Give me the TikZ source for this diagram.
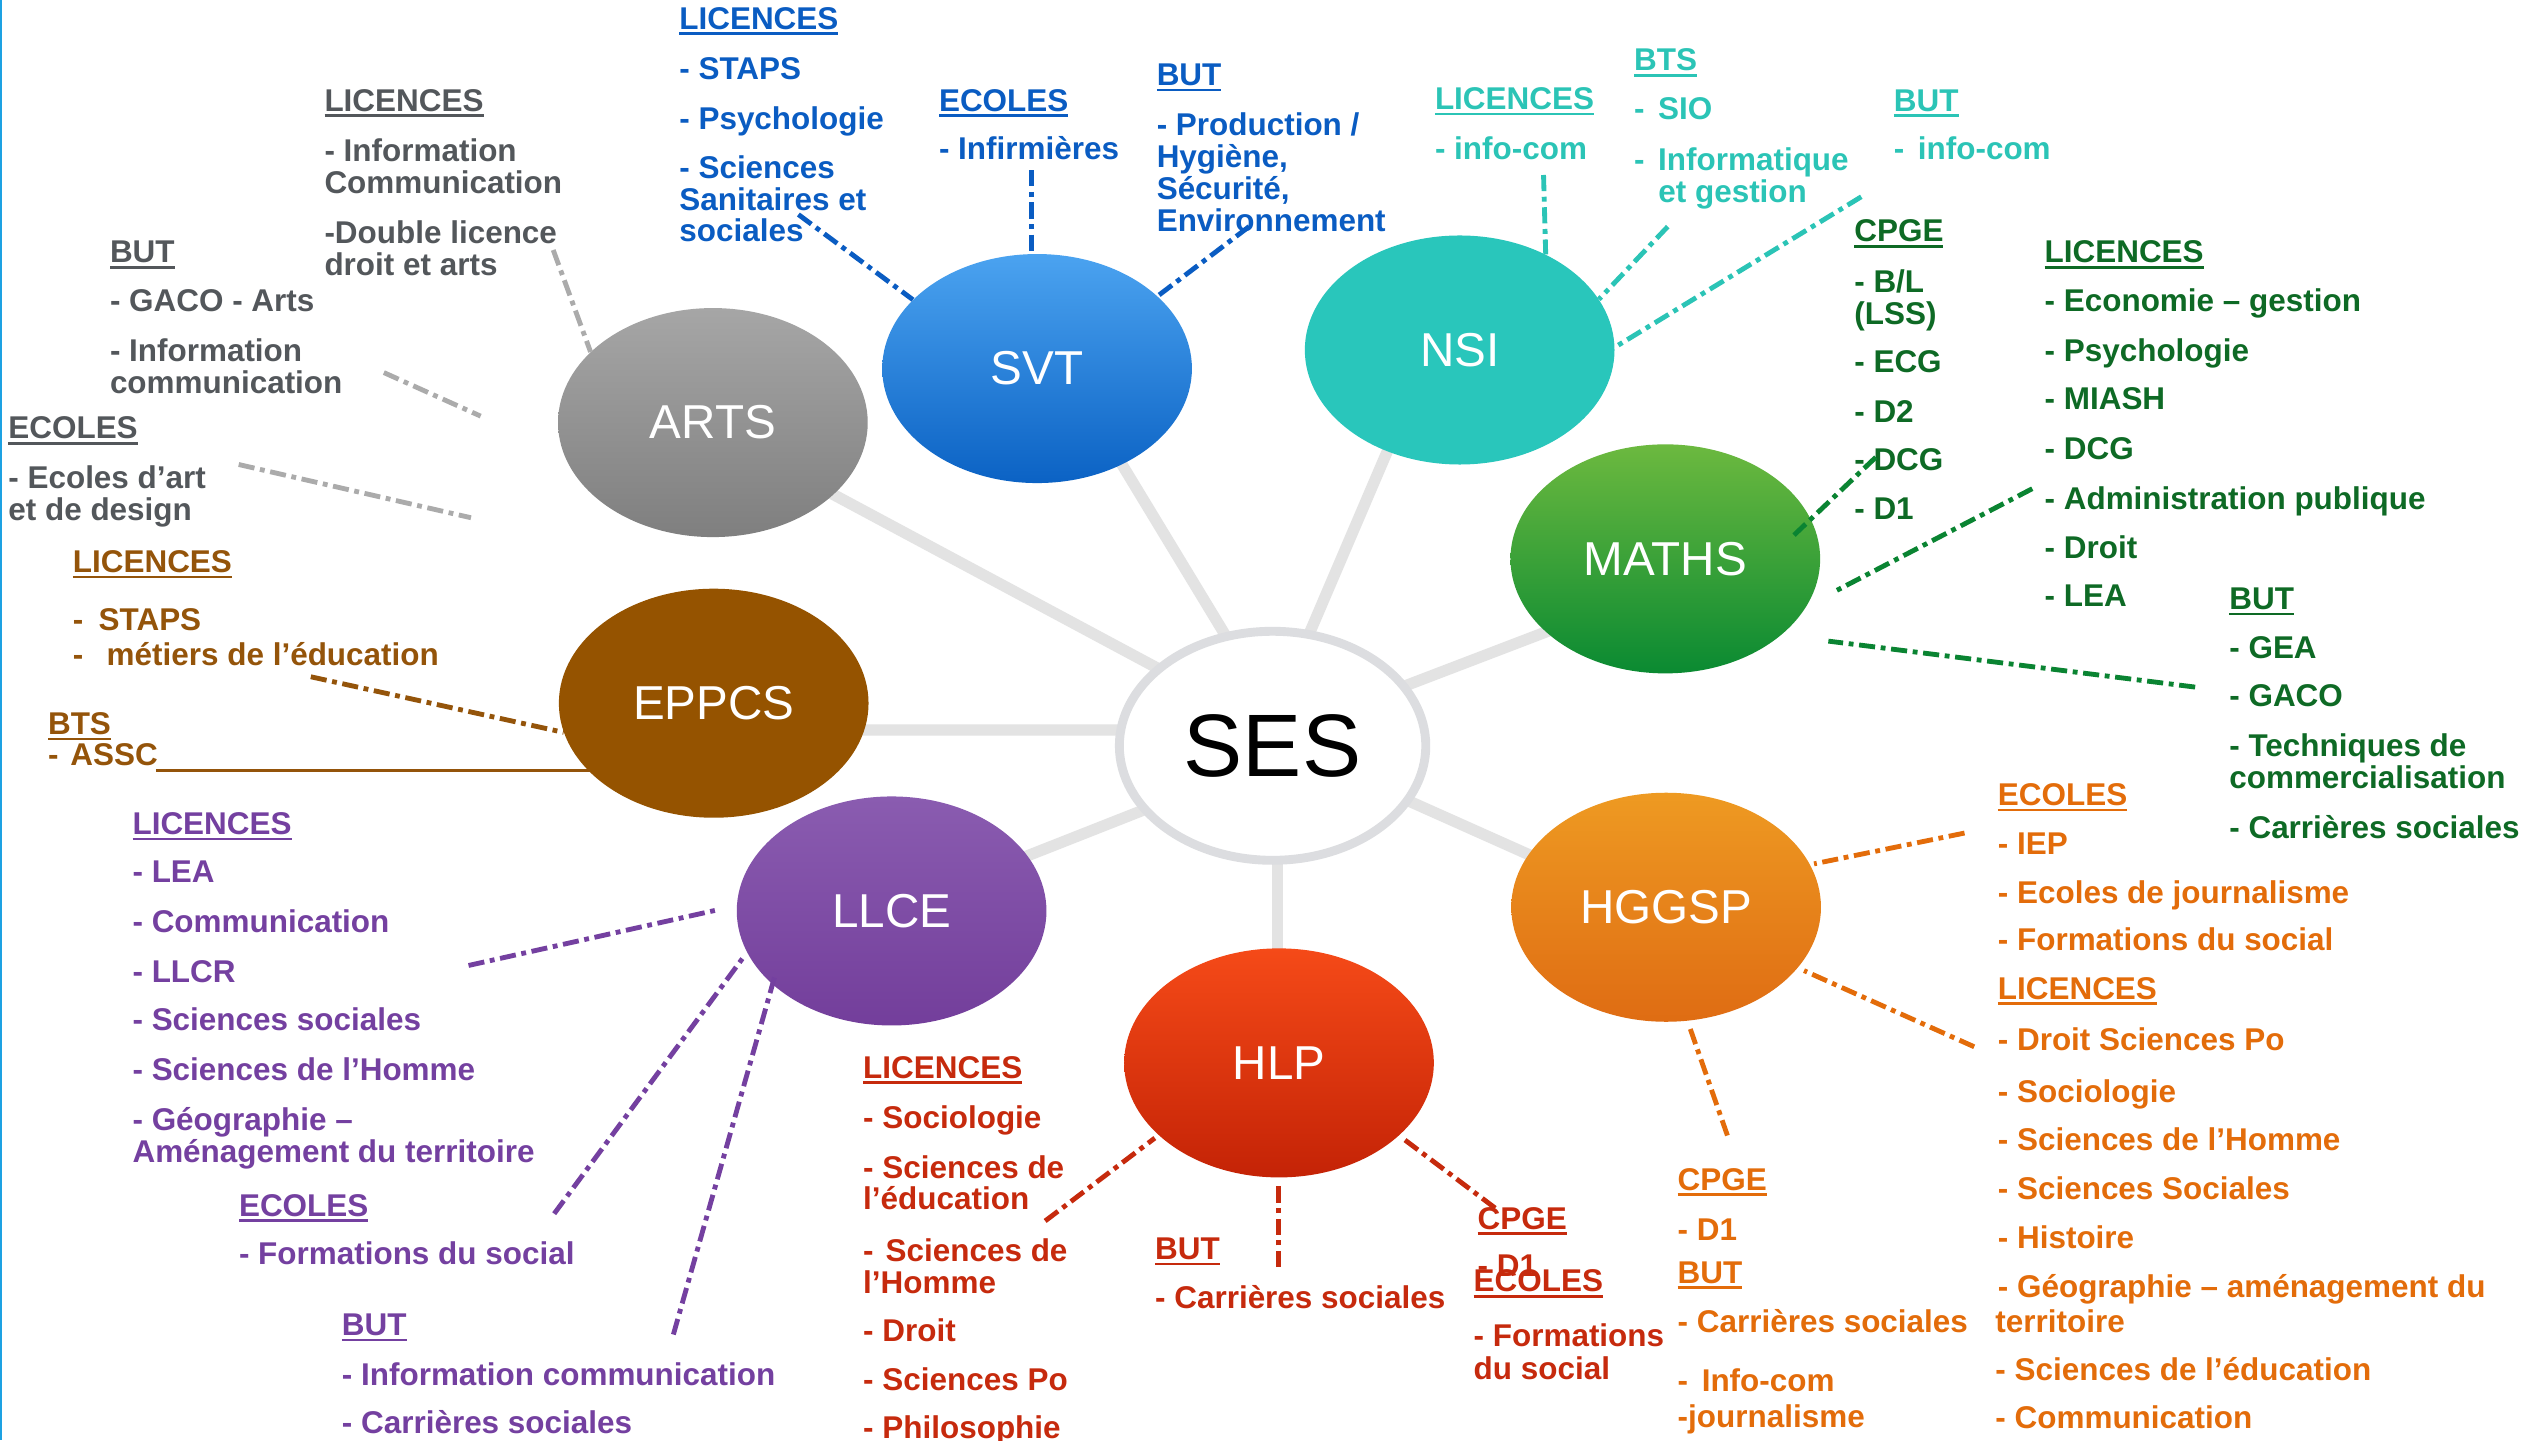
\documentclass[tikz,border=0pt]{standalone}
\usepackage{fontspec}
\setmainfont{Liberation Sans}
\usetikzlibrary{shapes.geometric,backgrounds,calc}
\definecolor{grayT}{HTML}{53575B}
\definecolor{grayL}{HTML}{ABABAB}
\definecolor{blueT}{HTML}{0A5CC2}
\definecolor{tealT}{HTML}{2BC4B6}
\definecolor{greenT}{HTML}{0E6A25}
\definecolor{greenL}{HTML}{0A8432}
\definecolor{brownT}{HTML}{94540A}
\definecolor{purpleT}{HTML}{7440A0}
\definecolor{redT}{HTML}{C62A0D}
\definecolor{orangeT}{HTML}{E36C0A}
\definecolor{artsA}{HTML}{A6A6A6}
\definecolor{artsB}{HTML}{7F7F7F}
\definecolor{svtA}{HTML}{4BA3F0}
\definecolor{svtB}{HTML}{0B62C4}
\definecolor{nsiC}{HTML}{29C6BB}
\definecolor{mathsA}{HTML}{6CB93F}
\definecolor{mathsB}{HTML}{0A8A32}
\definecolor{eppcsC}{HTML}{955300}
\definecolor{llceA}{HTML}{8A5CB0}
\definecolor{llceB}{HTML}{733E9B}
\definecolor{hlpA}{HTML}{F54A18}
\definecolor{hlpB}{HTML}{C42306}
\definecolor{hggspA}{HTML}{EE9A22}
\definecolor{hggspB}{HTML}{DF6C13}
\definecolor{spokeC}{HTML}{E3E3E3}
\definecolor{sesB}{HTML}{DCDDE0}
\definecolor{edgeC}{HTML}{1DA1E2}
\newcommand\uhead[1]{\setbox0\hbox{#1}\rlap{\rule[-3.6pt]{\wd0}{1.7pt}}\box0}
\newcommand\txtcol[4]{\foreach \yv/\tv [count=\ii] in {#4} {\node[lbl,#3] (#1\ii) at (#2,\yv) {\tv};}}
\tikzset{
  lbl/.style={font=\fontsize{19.5}{20}\selectfont\bfseries, inner sep=0pt, anchor=base west},
  bub/.style={ellipse, minimum width=192pt, minimum height=142pt, inner sep=0pt, text=white,
    font=\fontsize{29.5}{30}\selectfont},
  spoke/.style={draw=spokeC, line width=7pt},
  dd/.style={line width=3pt, dash pattern=on 10pt off 3.5pt on 3pt off 3.5pt},
}
\begin{document}
\begin{tikzpicture}[x=1pt,y=-1pt]
\useasboundingbox (0,0) rectangle (1568,893);

% ---- circles
\node[bub, top color=artsA, bottom color=artsB] (arts) at (442,262) {ARTS};
\node[bub, top color=svtA, bottom color=svtB] (svt) at (643,228.5) {SVT};
\node[bub, fill=nsiC] (nsi) at (905,217) {NSI};
\node[bub, top color=mathsA, bottom color=mathsB] (maths) at (1032.5,346.5) {MATHS};
\node[bub, fill=eppcsC] (eppcs) at (442.5,436) {EPPCS};
\node[bub, top color=llceA, bottom color=llceB] (llce) at (552.8,564.8) {LLCE};
\node[bub, top color=hlpA, bottom color=hlpB] (hlp) at (793,659) {HLP};
\node[bub, top color=hggspA, bottom color=hggspB] (hggsp) at (1033,562.5) {HGGSP};
\node[ellipse, minimum width=190pt, minimum height=142pt, inner sep=0pt, fill=white,
  draw=sesB, line width=5.5pt, font=\fontsize{55}{56}\selectfont] (ses) at (789,462.4) {SES};

% ---- spokes (behind)
\begin{scope}[on background layer]
\fill[white] (0,0) rectangle (1568,893);
\draw[edgeC, line width=1.2pt] (0.6,0) -- (0.6,893);
\draw[spoke] ($(ses)+(0,-9.9)$) -- ($(arts)+(0,4.6)$);
\draw[spoke] ($(ses)+(12,-0.4)$) -- ($(svt)+(16.6,0)$);
\draw[spoke] ($(ses)+(-7,0)$) -- ($(nsi)+(-18,0)$);
\draw[spoke] ($(ses)+(0,-5.7)$) -- ($(maths)+(0,17)$);
\draw[spoke] ($(ses)+(0,-9.8)$) -- ($(eppcs)+(0,16.6)$);
\draw[spoke] ($(ses)+(0,8.3)$) -- ($(llce)+(0,-1)$);
\draw[spoke] ($(ses)+(3,0)$) -- ($(hlp)+(-1,0)$);
\draw[spoke] ($(ses)+(0,-3.5)$) -- ($(hggsp)+(0,5.4)$);
\end{scope}

% ---- ARTS texts
\txtcol{aA}{201}{grayT}{69/{\uhead{LICENCES}},100/{- Information},120/{Communication},151/{-Double licence},171/{droit et arts}}
\txtcol{aB}{68}{grayT}{163/{\uhead{BUT}},193/{- GACO - Arts},224/{- Information},244/{communication}}
\txtcol{aC}{5}{grayT}{272/{\uhead{ECOLES}},303/{- Ecoles d’art},323/{et de design}}
% ---- SVT texts
\txtcol{sA}{421}{blueT}{18/{\uhead{LICENCES}},49.5/{- STAPS},80/{- Psychologie},110.5/{- Sciences},130.5/{Sanitaires et},150/{sociales}}
\txtcol{sB}{582}{blueT}{69/{\uhead{ECOLES}},99/{- Infirmières}}
\txtcol{sC}{717}{blueT}{53/{\uhead{BUT}},84/{- Production /},104/{Hygiène,},124/{Sécurité,},143.5/{Environnement}}
% ---- NSI texts
\txtcol{nA}{889.5}{tealT}{68/{\uhead{LICENCES}},99/{- info-com}}
\txtcol{nB}{1013}{tealT}{44/{\uhead{BTS}},74/{- \hspace{3pt}SIO},105.5/{- \hspace{3pt}Informatique}}
\node[lbl,tealT] (nB4) at (1028,125.5) {et gestion};
\txtcol{nC}{1174}{tealT}{69/{\uhead{BUT}},99/{- \hspace{3pt}info-com}}
% ---- MATHS texts
\txtcol{mA}{1149.5}{greenT}{150/{\uhead{CPGE}},181.5/{- B/L},201/{(LSS)},231/{- ECG},262/{- D2},292/{- DCG},322/{- D1}}
\txtcol{mB}{1267.5}{greenT}{163/{\uhead{LICENCES}},193/{- Economie – gestion},224/{- Psychologie},254/{- MIASH},285/{- DCG},316/{- Administration publique},346/{- Droit},376/{- LEA}}
\txtcol{mC}{1382}{greenT}{378/{\uhead{BUT}},408/{- GEA},438/{- GACO},469/{- Techniques de},489/{commercialisation},520/{- Carrières sociales}}
% ---- EPPCS texts
\txtcol{eA}{45}{brownT}{355/{\uhead{LICENCES}},391/{-\hspace{9.5pt}STAPS},412.7/{-\hspace{14.5pt}métiers de l’éducation}}
\txtcol{eB}{29.6}{brownT}{455.4/{\uhead{BTS}},474.7/{- \hspace{2pt}ASSC}}
% ---- LLCE texts
\txtcol{lA}{82}{purpleT}{517.4/{\uhead{LICENCES}},547/{- LEA},578/{- Communication},609/{- LLCR},639/{- Sciences sociales},669.7/{- Sciences de l’Homme},700.7/{- Géographie –},721/{Aménagement du territoire}}
\txtcol{lB}{148}{purpleT}{754/{\uhead{ECOLES}},784/{- Formations du social}}
\txtcol{lC}{211.8}{purpleT}{828/{\uhead{BUT}},859/{- Information communication},889/{- Carrières sociales}}
% ---- HLP texts
\txtcol{hA}{535}{redT}{668.6/{\uhead{LICENCES}},699.6/{- Sociologie},730.6/{- Sciences de},750/{l’éducation},782/{- \hspace{2pt}Sciences de},802/{l’Homme},832/{- Droit},862/{- Sciences Po},892/{- Philosophie}}
\txtcol{hB}{716}{redT}{781/{\uhead{BUT}},811/{- Carrières sociales}}
\txtcol{hC}{916}{redT}{762/{\uhead{CPGE}},791.6/{- D1}}
\txtcol{hD}{913.5}{redT}{801/{\uhead{ECOLES}},835/{- Formations},855/{du social}}
% ---- HGGSP texts
\txtcol{gA}{1238.5}{orangeT}{499.5/{\uhead{ECOLES}},529.5/{- IEP},560/{- Ecoles de journalisme},589.6/{- Formations du social},619.5/{\uhead{LICENCES}},651.6/{- Droit Sciences Po},683.6/{- Sociologie},713.6/{- Sciences de l’Homme},743.5/{- Sciences Sociales},774/{- Histoire},804.5/{- Géographie – aménagement du}}
\txtcol{gB}{1237}{orangeT}{826/{territoire},856/{- Sciences de l’éducation},885.6/{- Communication}}
\txtcol{gC}{1040}{orangeT}{738/{\uhead{CPGE}},769/{- D1},795.5/{\uhead{BUT}},826/{- Carrières sociales},863/{- \hspace{3pt}Info-com},885/{-journalisme}}

% ---- connector end points
\coordinate (ca1) at (343,155);
\coordinate (ca2) at (238,231);  \coordinate (ca2e) at (298,258);
\coordinate (ca3) at (148,288);  \coordinate (ca3e) at (292,321);
\coordinate (cs1) at (495,133);
\coordinate (cs2) at (639.6,105.5);
\coordinate (cs3) at (774.4,140.5);
\coordinate (cn1) at (957,108.5);
\coordinate (cn2) at (1034,140.5);
\coordinate (cn3) at (1154,122);
\coordinate (cm1) at (1163,283.5); \coordinate (cm1e) at (1111,333);
\coordinate (cm2) at (1260,303);   \coordinate (cm2e) at (1136,367.5);
\coordinate (cm3) at (1361,426);   \coordinate (cm3e) at (1133.6,397.5);
\coordinate (ce1) at (192.7,419.6);
\coordinate (ce2) at (96.6,477.7); \coordinate (ce2e) at (366,477.7);
\coordinate (cl1) at (290.5,598.6); \coordinate (cl1e) at (443.6,564.4);
\coordinate (cl2) at (343.6,752.5); \coordinate (cl2e) at (462,592);
\coordinate (cl3) at (417.5,827.4); \coordinate (cl3e) at (480.6,604.5);
\coordinate (ch1) at (648,757);    \coordinate (ch1e) at (716,705.6);
\coordinate (ch2) at (792.5,785.6); \coordinate (ch2e) at (792.5,735);
\coordinate (ch3) at (927,749);    \coordinate (ch3e) at (870,706);
\coordinate (cg1) at (1218,516.5); \coordinate (cg1e) at (1124.7,535.6);
\coordinate (cg2) at (1224,649);   \coordinate (cg2e) at (1118.5,601.8);
\coordinate (cg3) at (1071,704);   \coordinate (cg3e) at (1048,638);

% ---- connectors
\draw[dd, grayL] (ca1) -- (arts.150);
\draw[dd, grayL] (ca2) -- (ca2e);
\draw[dd, grayL] (ca3) -- (ca3e);
\draw[dd, blueT] (cs1) -- (svt.151);
\draw[dd, blueT] (cs2) -- (cs2 |- svt.north);
\draw[dd, blueT] (cs3) -- (svt.31);
\draw[dd, tealT] (cn1) -- (nsi.48);
\draw[dd, tealT] (cn2) -- (nsi.20);
\draw[dd, tealT] (cn3) -- (nsi.1);
\draw[dd, greenL] (cm1) -- (cm1e);
\draw[dd, greenL] (cm2) -- (cm2e);
\draw[dd, greenL] (cm3) -- (cm3e);
\draw[dd, brownT] (ce1) -- (eppcs.191);
\draw[brownT, line width=2pt] (ce2) -- (ce2e);
\draw[dd, purpleT] (cl1) -- (cl1e);
\draw[dd, purpleT] (cl2) -- (cl2e);
\draw[dd, purpleT] (cl3) -- (cl3e);
\draw[dd, redT] (ch1) -- (ch1e);
\draw[dd, redT] (ch2) -- (ch2e);
\draw[dd, redT] (ch3) -- (ch3e);
\draw[dd, orangeT] (cg1) -- (cg1e);
\draw[dd, orangeT] (cg2) -- (cg2e);
\draw[dd, orangeT] (cg3) -- (cg3e);
\end{tikzpicture}
\end{document}
